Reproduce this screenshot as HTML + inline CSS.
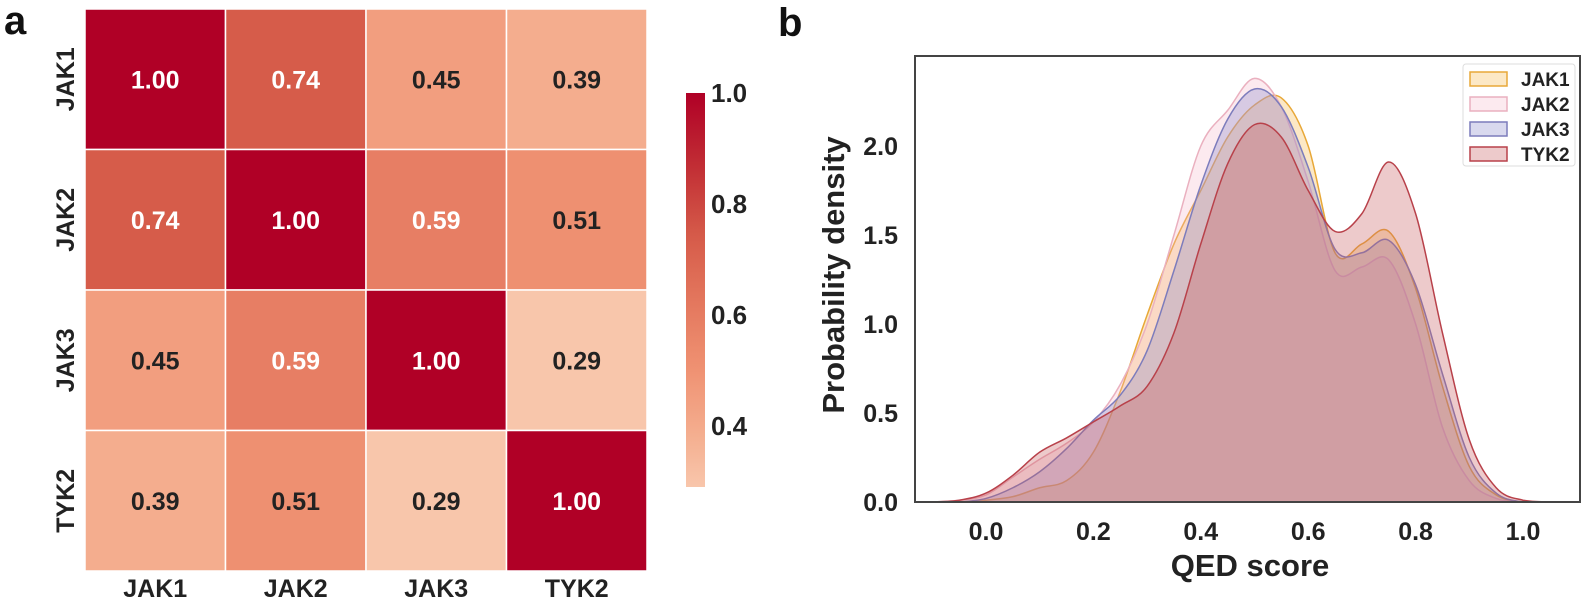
<!DOCTYPE html>
<html><head><meta charset="utf-8">
<style>
html,body{margin:0;padding:0;background:#fff;}
svg{display:block;font-family:"Liberation Sans",Arial,sans-serif;}
</style></head>
<body>
<svg id="fig" width="1588" height="602" viewBox="0 0 1588 602" xmlns="http://www.w3.org/2000/svg">
  <text x="4" y="34" font-size="40" font-weight="bold" fill="#111">a</text>
  <text x="778" y="36" font-size="40" font-weight="bold" fill="#111">b</text>
  <g id="heat"></g>
  <g id="cbar"></g>
  <g id="kde"></g>
</svg>
<script>
// ---------- heatmap data ----------
const labels = ["JAK1","JAK2","JAK3","TYK2"];
const row0 = [1.00,0.74,0.45,0.39];
const row1 = [0.74,1.00,0.59,0.51];
const row2 = [0.45,0.59,1.00,0.29];
const row3 = [0.39,0.51,0.29,1.00];
const matrix = [row0,row1,row2,row3];
const cbarTicks = [0.4,0.6,0.8,1.0];

// ---------- KDE data ----------
const qedX = [-0.10,-0.05,0.00,0.05,0.10,0.15,0.20,0.25,0.30,0.35,0.40,0.45,0.50,0.55,0.60,0.65,0.70,0.75,0.80,0.85,0.90,0.95,1.00,1.05];
const jak1 = [0,0,0.01,0.03,0.08,0.12,0.28,0.62,1.05,1.45,1.75,2.05,2.23,2.27,2.00,1.40,1.45,1.52,1.20,0.65,0.20,0.04,0,0];
const jak2 = [0,0.01,0.04,0.14,0.24,0.33,0.45,0.66,1.00,1.50,2.00,2.20,2.38,2.22,1.80,1.30,1.32,1.36,1.00,0.42,0.12,0.02,0,0];
const jak3 = [0,0,0.02,0.08,0.17,0.30,0.46,0.60,0.85,1.30,1.78,2.15,2.32,2.22,1.88,1.42,1.40,1.47,1.22,0.72,0.25,0.05,0,0];
const tyk2 = [0,0.01,0.05,0.15,0.28,0.36,0.45,0.54,0.65,0.95,1.45,1.90,2.12,2.05,1.75,1.52,1.62,1.91,1.62,0.95,0.35,0.08,0.01,0];
const seriesNames = ["JAK1","JAK2","JAK3","TYK2"];
const xTicks = [0.0,0.2,0.4,0.6,0.8,1.0];
const yTicks = [0.0,0.5,1.0,1.5,2.0];

const NS = "http://www.w3.org/2000/svg";
function mk(tag, attrs, parent){ const e=document.createElementNS(NS,tag); for(const k in attrs) e.setAttribute(k,attrs[k]); parent.appendChild(e); return e; }

const stops=[[0.29,[248,198,171]],[0.40,[244,170,139]],[0.50,[239,146,115]],[0.60,[230,124,98]],[0.74,[214,92,74]],[0.85,[196,52,55]],[1.0,[176,0,38]]];
function cmap(v){
  if(v<=stops[0][0]) return `rgb(${stops[0][1]})`;
  for(let i=1;i<stops.length;i++){ if(v<=stops[i][0]){ const a=stops[i-1],b=stops[i],t=(v-a[0])/(b[0]-a[0]);
    return `rgb(${a[1].map((c,j)=>Math.round(c+(b[1][j]-c)*t)).join(",")})`; } }
  return `rgb(${stops[stops.length-1][1]})`;
}

// ---------- heatmap ----------
const heat=document.getElementById('heat');
const hx0=85,hy0=9,cell=140.5;
const cx=i=>hx0+i*cell, cy=j=>hy0+j*cell;
matrix.forEach((row,j)=>row.forEach((v,i)=>{
  const r=mk('rect',{x:cx(i),y:cy(j),width:cell,height:cell,fill:cmap(v),stroke:'#fff','stroke-width':1.5},heat);
  
  
  const t=mk('text',{x:cx(i)+cell/2,y:cy(j)+cell/2+9,'text-anchor':'middle','font-size':25,'font-weight':'bold',fill:(v>=0.55?'#fff':'#222')},heat);
  t.textContent=v.toFixed(2);
  
  
}));
labels.forEach((l,i)=>{
  const t=mk('text',{x:cx(i)+cell/2,y:597,'text-anchor':'middle','font-size':25,'font-weight':'bold',fill:'#222'},heat);
  t.textContent=l;
  
  
  const y=cy(i)+cell/2;
  const t2=mk('text',{x:0,y:0,transform:`translate(74,${y}) rotate(-90)`,'text-anchor':'middle','font-size':25,'font-weight':'bold',fill:'#222'},heat);
  t2.textContent=l;
  
  
});

// ---------- colorbar ----------
const cb=document.getElementById('cbar');
const cbTop=93,cbBot=487,vmin=0.29,vmax=1.0;
const cbY=v=>cbBot-(v-vmin)/(vmax-vmin)*(cbBot-cbTop);
const defs=mk('defs',{},cb);
const grad=mk('linearGradient',{id:'cbg',x1:0,y1:1,x2:0,y2:0},defs);
for(let k=0;k<=20;k++){ const v=vmin+(vmax-vmin)*k/20; mk('stop',{offset:(k/20),'stop-color':cmap(v)},grad); }
const cbr=mk('rect',{x:686,y:cbTop,width:19,height:cbBot-cbTop,fill:'url(#cbg)'},cb);


cbarTicks.forEach(v=>{
  const t=mk('text',{x:711,y:cbY(v)+9,'font-size':26,'font-weight':'bold',fill:'#222'},cb);
  t.textContent=v.toFixed(1);
  
  
});

// ---------- KDE ----------
const kde=document.getElementById('kde');
const L=915,R=1580,T=56,B=502;
const sx=v=>986+v*537, sy=v=>B-v*178;
const colors=[
  {fill:'rgba(245,185,80,0.33)',stroke:'#e8a838'},
  {fill:'rgba(244,180,196,0.28)',stroke:'#eab0bf'},
  {fill:'rgba(130,130,200,0.30)',stroke:'#7c7cbc'},
  {fill:'rgba(200,90,94,0.32)',stroke:'#b8414a'}];
const cp=mk('clipPath',{id:'plotclip'},kde); mk('rect',{x:L,y:T,width:R-L,height:B-T},cp);
function smoothPath(xs,ys){
  const p=xs.map((x,i)=>[sx(x),sy(ys[i])]);
  let d=`M${p[0][0]},${p[0][1]}`;
  for(let i=0;i<p.length-1;i++){
    const p0=p[Math.max(0,i-1)],p1=p[i],p2=p[i+1],p3=p[Math.min(p.length-1,i+2)];
    let c1y=p1[1]+(p2[1]-p0[1])/6, c2y=p2[1]-(p3[1]-p1[1])/6;
    c1y=Math.min(c1y,B); c2y=Math.min(c2y,B);
    d+=` C${p1[0]+(p2[0]-p0[0])/6},${c1y} ${p2[0]-(p3[0]-p1[0])/6},${c2y} ${p2[0]},${p2[1]}`;
  }
  return d;
}
const g=mk('g',{'clip-path':'url(#plotclip)'},kde);
[jak1,jak2,jak3,tyk2].forEach((ys,k)=>{
  const line=smoothPath(qedX,ys);
  const area=mk('path',{d:line+` L${sx(qedX[qedX.length-1])},${B} L${sx(qedX[0])},${B} Z`,fill:colors[k].fill,stroke:'none'},g);
  
  
  const ln=mk('path',{d:line,fill:'none',stroke:colors[k].stroke,'stroke-width':1.5},g);
  
  
});
const frame=mk('rect',{x:L,y:T,width:R-L,height:B-T,fill:'none',stroke:'#444','stroke-width':2},kde);


xTicks.forEach(v=>{
  const t=mk('text',{x:sx(v),y:540,'text-anchor':'middle','font-size':25,'font-weight':'bold',fill:'#222'},kde);
  t.textContent=v.toFixed(1);
  
  
});
yTicks.forEach(v=>{
  const t=mk('text',{x:898,y:sy(v)+9,'text-anchor':'end','font-size':25,'font-weight':'bold',fill:'#222'},kde);
  t.textContent=v.toFixed(1);
  
  
});
const xt=mk('text',{x:1250,y:576,'text-anchor':'middle','font-size':31,'font-weight':'bold',fill:'#222'},kde);
xt.textContent='QED score';


const yt=mk('text',{x:0,y:0,transform:'translate(844,275) rotate(-90)','text-anchor':'middle','font-size':31,'font-weight':'bold',fill:'#222'},kde);
yt.textContent='Probability density';


const lg=mk('g',{},kde);


mk('rect',{x:1463,y:64,width:112,height:102,fill:'#fff',stroke:'#ddd','stroke-width':1,rx:3},lg);
seriesNames.forEach((n,k)=>{
  const y=79+k*25;
  const sw=mk('rect',{x:1470,y:y-7,width:37,height:14,fill:colors[k].fill,stroke:colors[k].stroke,'stroke-width':1.5},lg);
  
  
  const t=mk('text',{x:1521,y:y+7,'font-size':19,'font-weight':'bold',fill:'#222'},lg);
  t.textContent=n;
  
  
});
</script>
</body></html>
